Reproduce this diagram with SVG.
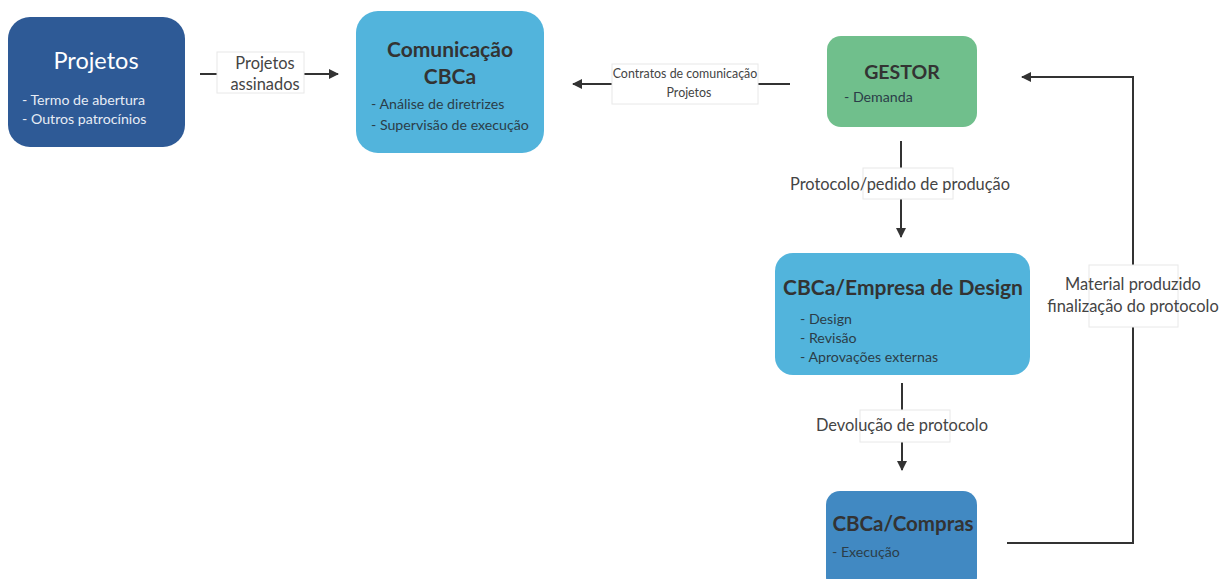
<svg xmlns="http://www.w3.org/2000/svg" width="1222" height="579" viewBox="0 0 1222 579">
<defs>
<marker id="ah" viewBox="0 0 10 10" refX="9" refY="5" markerWidth="10" markerHeight="10" markerUnits="userSpaceOnUse" orient="auto">
<path d="M0,0 L10,5 L0,10 z" fill="#333"/>
</marker>
<style>
text{font-family:Lato,"Open Sans","Liberation Sans",sans-serif;}
.t{font-weight:bold;fill:#333;text-anchor:middle;}
.b{font-size:14.2px;fill:#2b3d48;}
.lbl{font-size:16.4px;fill:#444;text-anchor:middle;}
.lb{fill:#fff;stroke:#e8e8e8;stroke-width:1;}
.c{fill:none;stroke:#333;stroke-width:2;}
</style>
</defs>
<rect width="1222" height="579" fill="#fff"/>
<g id="connectors">
<line class="c" x1="200" y1="74" x2="338" y2="74" marker-end="url(#ah)"/>
<rect class="lb" x="217" y="52" width="87" height="41"/>
<text class="lbl" x="265" y="69">Projetos</text>
<text class="lbl" x="265" y="90">assinados</text>
<line class="c" x1="790" y1="84" x2="573" y2="84" marker-end="url(#ah)"/>
<rect class="lb" x="612" y="64" width="146" height="40"/>
<text class="lbl" x="685" y="78" style="font-size:12.4px">Contratos de comunicação</text>
<text class="lbl" x="689" y="97" style="font-size:12.4px">Projetos</text>
<line class="c" x1="901" y1="141" x2="901" y2="237" marker-end="url(#ah)"/>
<rect class="lb" x="863" y="168" width="90" height="31"/>
<text class="lbl" x="900" y="190">Protocolo/pedido de produção</text>
<line class="c" x1="902" y1="383" x2="902" y2="470" marker-end="url(#ah)"/>
<rect class="lb" x="860" y="410" width="90" height="32"/>
<text class="lbl" x="902" y="431">Devolução de protocolo</text>
<polyline class="c" points="1007,543 1133,543 1133,77 1022,77" marker-end="url(#ah)"/>
<rect class="lb" x="1089" y="265" width="89" height="62"/>
<text class="lbl" x="1133" y="290">Material produzido</text>
<text class="lbl" x="1133" y="312">finalização do protocolo</text>
</g>
<g id="projetos">
<rect x="8" y="17" width="177" height="130" rx="22" fill="#2e5a96"/>
<text x="96" y="69" style="font-size:23.5px;fill:#fff;text-anchor:middle">Projetos</text>
<text class="b" x="22" y="105" style="fill:#e6ecf5">- Termo de abertura</text>
<text class="b" x="22" y="124" style="fill:#e6ecf5">- Outros patrocínios</text>
</g>
<g id="comunicacao">
<rect x="356" y="11" width="188" height="142" rx="22" fill="#52b4dc"/>
<text class="t" x="450" y="57" style="font-size:21px">Comunicação</text>
<text class="t" x="450" y="84" style="font-size:21px">CBCa</text>
<text class="b" x="371" y="109">- Análise de diretrizes</text>
<text class="b" x="371" y="130">- Supervisão de execução</text>
</g>
<g id="gestor">
<rect x="827" y="36" width="150" height="91" rx="14" fill="#70bf8c"/>
<text class="t" x="902" y="79" style="font-size:19.5px">GESTOR</text>
<text class="b" x="844" y="102">- Demanda</text>
</g>
<g id="design">
<rect x="775" y="253" width="255" height="122" rx="18" fill="#52b4dc"/>
<text class="t" x="903" y="295" style="font-size:21px">CBCa/Empresa de Design</text>
<text class="b" x="800" y="324">- Design</text>
<text class="b" x="800" y="343">- Revisão</text>
<text class="b" x="800" y="362">- Aprovações externas</text>
</g>
<g id="compras">
<rect x="826" y="491" width="151" height="100" rx="14" fill="#4189c2"/>
<text class="t" x="903" y="531" style="font-size:20.5px">CBCa/Compras</text>
<text class="b" x="832" y="557">- Execução</text>
</g>
</svg>
